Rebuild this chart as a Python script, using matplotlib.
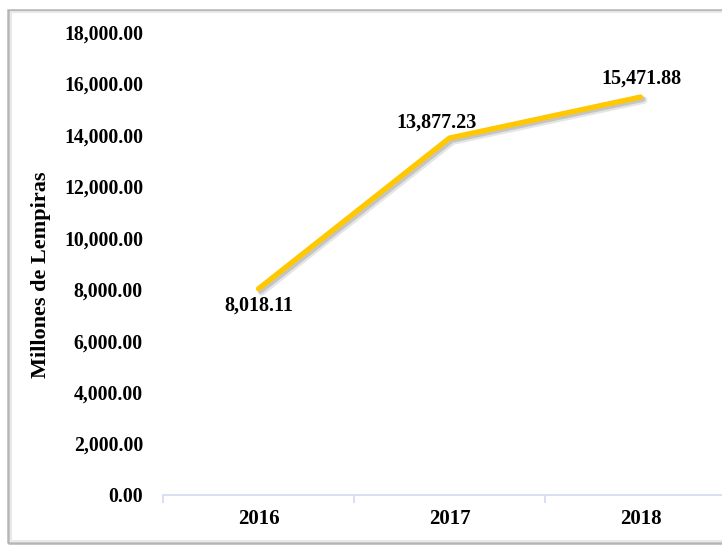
import matplotlib
matplotlib.use("Agg")
import matplotlib.pyplot as plt
import matplotlib.patheffects as pe
from matplotlib.patches import Rectangle
from matplotlib.ticker import FuncFormatter, FixedLocator, NullFormatter

years = ["2016", "2017", "2018"]
values = [8018.11, 13877.23, 15471.88]
y_ticks = [0, 2000, 4000, 6000, 8000, 10000, 12000, 14000, 16000, 18000]

W, H = 722, 546
fig = plt.figure(figsize=(W / 100, H / 100), dpi=100)

# outer frame with a soft shadow on the left and top
fig.patches.append(Rectangle((8 / W, 3 / H), 1.0, (H - 13) / H, transform=fig.transFigure,
                             fill=False, edgecolor="#b5b5b5", linewidth=1.8))
fig.patches.append(Rectangle((10.5 / W, 5 / H), 1.0, (H - 17) / H, transform=fig.transFigure,
                             fill=False, edgecolor="#e8e8e8", linewidth=1.5))

left, bottom = 163 / W, (H - 495) / H
ax = fig.add_axes([left, bottom, 573 / W, (495 - 32) / H])

x = list(range(len(years)))
ax.plot(x, values, color="#FFC800", linewidth=3.8, solid_capstyle="round",
        path_effects=[pe.SimpleLineShadow(offset=(2.2, -2.2), shadow_color="#000000", alpha=0.10,
                                          linewidth=5.5),
                      pe.SimpleLineShadow(offset=(1.6, -1.6), shadow_color="#000000", alpha=0.14),
                      pe.Normal()])

ax.set_xlim(-0.5, 2.5)
ax.set_ylim(0, 18000)

for s in ["top", "right", "left"]:
    ax.spines[s].set_visible(False)
ax.spines["bottom"].set_color("#d0dcef")
ax.spines["bottom"].set_linewidth(1.2)

ax.yaxis.set_major_locator(FixedLocator(y_ticks))
ax.yaxis.set_major_formatter(FuncFormatter(lambda v, p: f"{v:,.2f}"))
ax.tick_params(axis="y", length=0, pad=14.4)
for lab in ax.get_yticklabels():
    lab.set_fontfamily("Liberation Serif")
    lab.set_fontweight("bold")
    lab.set_fontsize(14.2)

ax.set_xticks(x)
ax.set_xticklabels(years, fontfamily="Liberation Serif", fontweight="bold", fontsize=15)
ax.tick_params(axis="x", which="major", length=0, pad=10)
ax.xaxis.set_minor_locator(FixedLocator([-0.5, 0.5, 1.5, 2.5]))
ax.xaxis.set_minor_formatter(NullFormatter())
ax.tick_params(axis="x", which="minor", length=6, color="#d0dcef", width=1.2, direction="out")

ax.set_ylabel("Millones de Lempiras", fontfamily="Liberation Serif", fontweight="bold",
              fontsize=16)
ax.yaxis.set_label_coords(-(163 - 51) / 573, 0.5 - 11 / 463)

label_offsets = [(0, -17), (-13, 15), (1, 18)]
for xi, v, (dx, dy) in zip(x, values, label_offsets):
    ax.annotate(f"{v:,.2f}", (xi, v), xytext=(dx * 0.72, dy * 0.72), textcoords="offset points",
                ha="center", va="center", fontfamily="Liberation Serif", fontweight="bold",
                fontsize=14.5)

fig.savefig("out.png", dpi=100)
